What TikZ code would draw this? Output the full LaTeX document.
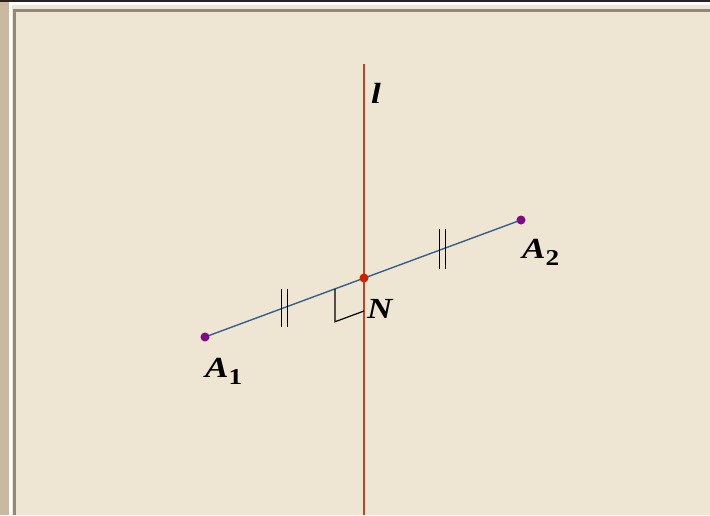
\documentclass[tikz,border=0pt]{standalone}
\usepackage{fontspec}
\usepackage{graphicx}
\setmainfont{Liberation Serif}[BoldItalicFont={Liberation Serif Bold Italic},BoldFont={Liberation Serif Bold}]
\usetikzlibrary{calc}
\definecolor{bgbeige}{HTML}{EFE5D3}
\definecolor{tanstrip}{HTML}{C9BA9F}
\definecolor{framegrey}{HTML}{8E897C}
\definecolor{framedark}{HTML}{2A2222}
\definecolor{segblue}{HTML}{34608E}
\definecolor{lred}{HTML}{C0442A}
\definecolor{ptpurple}{HTML}{7E0A86}
\definecolor{ptred}{HTML}{CC2200}
\newcommand{\mysub}[1]{\raisebox{-7pt}{\fontsize{21}{22}\selectfont\bfseries\upshape #1}}
\newcommand{\widelab}[1]{\scalebox{1.3}[1.08]{#1}}
\begin{document}
\begin{tikzpicture}[x=1pt,y=-1pt,
  lab/.style={inner sep=0pt, anchor=base west, font=\fontsize{27}{32}\selectfont\bfseries\itshape},
  pt/.style={circle, inner sep=0pt, minimum size=9pt},
  seg/.style={draw=segblue, line width=1.4pt},
  lline/.style={draw=lred, line width=1.4pt},
  tickmark/.style={draw=black, line width=1.5pt},
  rightmark/.style={draw=black, line width=1.2pt}]
\useasboundingbox (0,0) rectangle (710,515);
% background and window frame
\fill[bgbeige] (0,0) rectangle (710,515);
\fill[tanstrip] (0,0) rectangle (9,515);
\fill[white] (9,2) rectangle (12,515);
\fill[white] (9,2) rectangle (710,5);
\fill[framegrey] (13,9) rectangle (16,515);
\fill[framegrey] (13,9) rectangle (710,12);
\fill[framedark] (0,0) rectangle (710,2);
% geometry
\coordinate (A1) at (205,337);
\coordinate (A2) at (521,220);
\coordinate (N) at (364,278);
\coordinate (Ltop) at (364,64);
\coordinate (Lbot) at (364,515);
\draw[lline] (Ltop) -- (Lbot);
\draw[seg] (A1) -- (A2);
% equal-length ticks
\coordinate (M1) at ($(A1)!0.5!(N)$);
\coordinate (M2) at ($(N)!0.5!(A2)$);
\draw[tickmark] ($(M1)+(-3,-19)$) -- ($(M1)+(-3,19)$);
\draw[tickmark] ($(M1)+(3,-19)$) -- ($(M1)+(3,19)$);
\draw[tickmark] ($(M2)+(-3,-20)$) -- ($(M2)+(-3,20)$);
\draw[tickmark] ($(M2)+(3,-20)$) -- ($(M2)+(3,20)$);
% right angle marker
\coordinate (R1) at ($(N)!0.1824!(A1)$);
\coordinate (R2) at ($(N)+(0,33)$);
\coordinate (R3) at ($(R1)+(0,33)$);
\draw[rightmark] (R1) -- (R3) -- (R2);
% points
\node[pt, fill=ptpurple] (pA1) at (A1) {};
\node[pt, fill=ptpurple] (pA2) at (A2) {};
\node[pt, fill=ptred] (pN) at (N) {};
% labels
\node[lab] (labA1) at (205,377) {\widelab{A\mysub{1}}};
\node[lab] (labA2) at (522,258) {\widelab{A\mysub{2}}};
\node[lab] (labN) at (367,318) {\widelab{N}};
\node[lab] (labl) at (371,103) {\widelab{l}};
\end{tikzpicture}
\end{document}
